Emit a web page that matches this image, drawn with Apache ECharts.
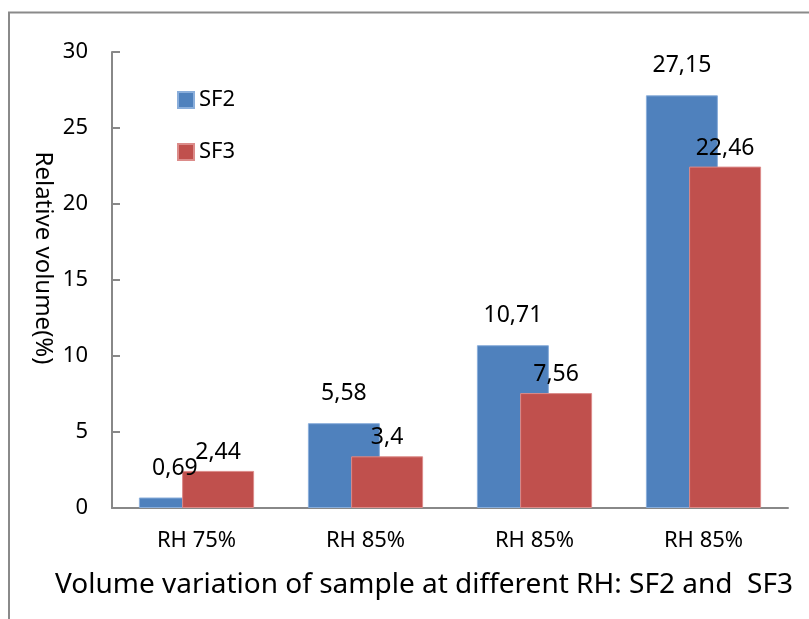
<!DOCTYPE html>
<html><head><meta charset="utf-8">
<script src="https://cdn.jsdelivr.net/npm/echarts@6/dist/echarts.min.js"></script>
<style>html,body{margin:0;padding:0;background:#fff}#c{width:809px;height:619px}</style>
</head><body><div id="c"></div>
<script>
var categories = ['RH 75%', 'RH 85%', 'RH 85%', 'RH 85%'];
var sf2Values = [0.69, 5.58, 10.71, 27.15];
var sf3Values = [2.44, 3.4, 7.56, 22.46];
var yTicks = [0, 5, 10, 15, 20, 25, 30];

var FONT = 'Noto Sans';
var chart = echarts.init(document.getElementById('c'));
function fmt(p){ return String(p.value).replace('.', ','); }
chart.setOption({
  animation: false,
  textStyle: { fontFamily: FONT },
  graphic: [
    { type: 'rect', shape: { x: 9, y: 12.5, width: 1000, height: 1000 },
      style: { fill: 'none', stroke: '#8a8a8a', lineWidth: 2 }, silent: true },
    { type: 'text', x: 43, y: 258, rotation: -Math.PI / 2,
      style: { text: 'Relative volume(%)', font: '24px "Noto Sans"', fill: '#000',
               textAlign: 'center', textVerticalAlign: 'middle' } },
    { type: 'text', x: 424, y: 585,
      style: { text: 'Volume variation of sample at different RH: SF2 and  SF3',
               font: '28px "Noto Sans"', fill: '#000', textAlign: 'center', textVerticalAlign: 'middle' } }
  ],
  legend: {
    orient: 'vertical', left: 177, top: 89, padding: 0, itemWidth: 16, itemHeight: 16, itemGap: 30,
    icon: 'rect', textStyle: { fontSize: 22, lineHeight: 22, color: '#000', padding: [0,0,0,0] },
    data: ['SF2', 'SF3']
  },
  grid: { left: 112, right: 21, top: 52, bottom: 111 },
  xAxis: {
    type: 'category', data: categories,
    axisLine: { lineStyle: { color: '#888', width: 2 } },
    axisTick: { show: false },
    axisLabel: { fontSize: 22, color: '#000', margin: 22 }
  },
  yAxis: {
    type: 'value', min: yTicks[0], max: yTicks[yTicks.length - 1], interval: 5,
    axisLine: { show: true, lineStyle: { color: '#888', width: 2 } },
    axisTick: { show: true, inside: true, length: 8, lineStyle: { color: '#888', width: 2 } },
    splitLine: { show: false },
    axisLabel: { fontSize: 22, color: '#000', margin: 24 }
  },
  series: [
    { name: 'SF2', type: 'bar', data: sf2Values, barWidth: 72, barGap: '-40%',
      itemStyle: { color: '#4F81BD', borderColor: '#8aaedb', borderWidth: 1 },
      label: { show: true, position: 'top', distance: 18, fontSize: 23, color: '#000', formatter: fmt } },
    { name: 'SF3', type: 'bar', data: sf3Values, barWidth: 72,
      itemStyle: { color: '#C0504D', borderColor: '#dc8c8a', borderWidth: 1 },
      label: { show: true, position: 'top', distance: 7, fontSize: 23, color: '#000', formatter: fmt } }
  ]
});
</script></body></html>
